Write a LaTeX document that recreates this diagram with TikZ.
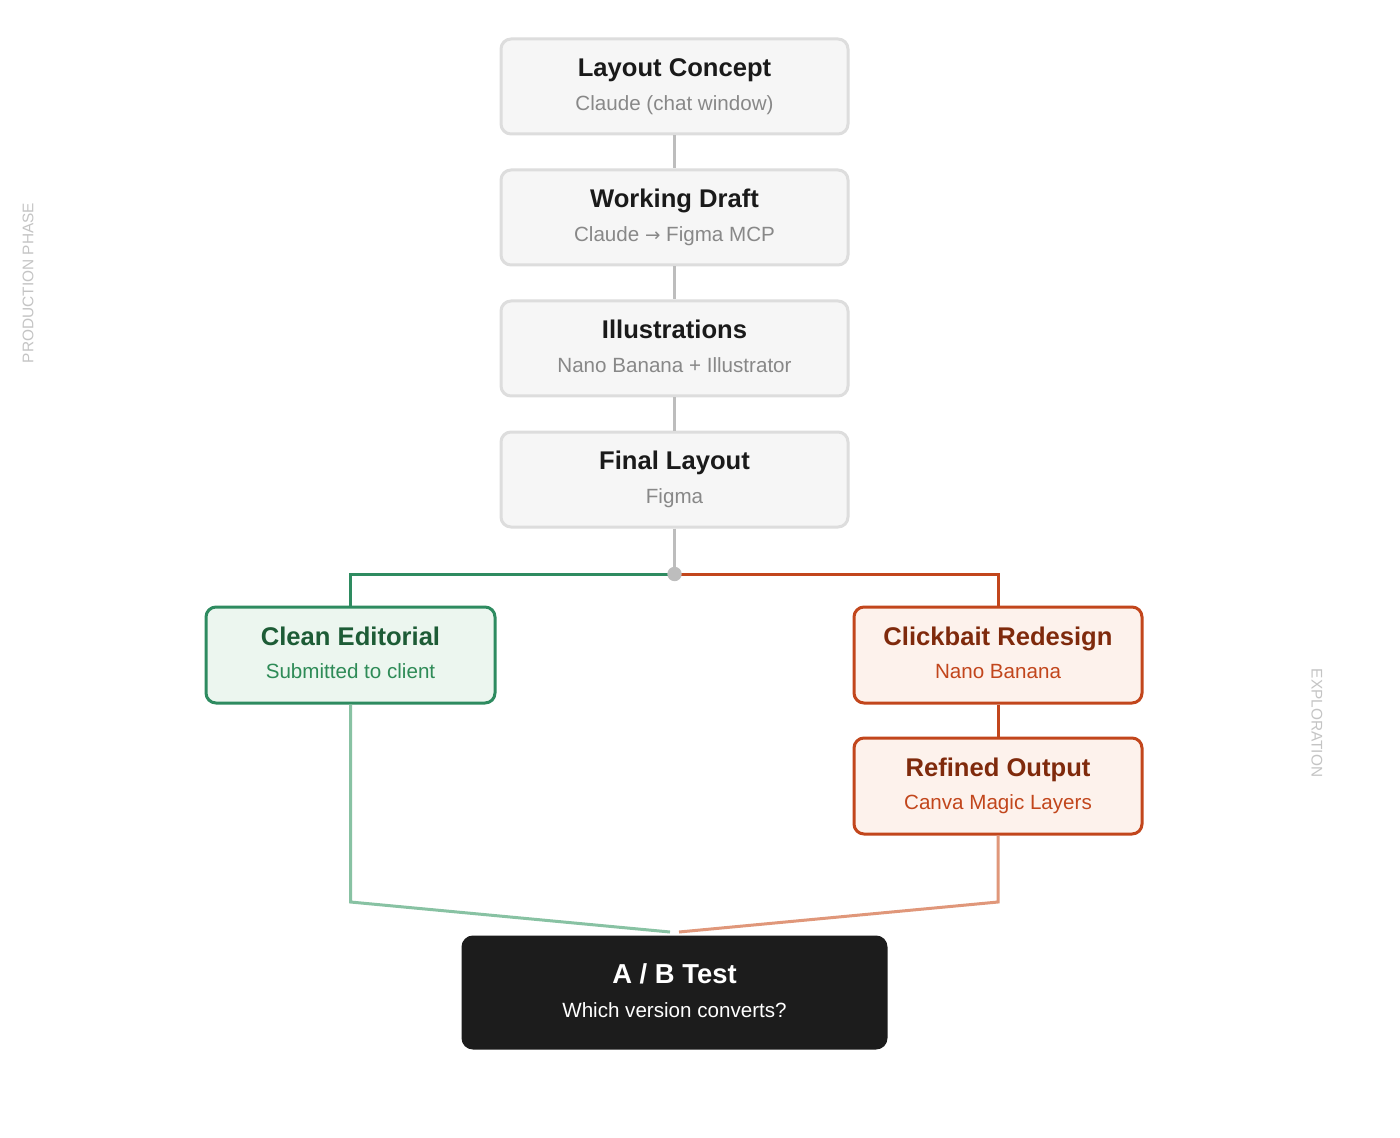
\documentclass[tikz,border=0pt]{standalone}
\usepackage{fontspec}
\setmainfont{Liberation Sans}
\newfontfamily\arrowfont{DejaVu Sans}
\usetikzlibrary{positioning}

\definecolor{grayfill}{HTML}{F6F6F6}
\definecolor{grayline}{HTML}{DDDDDD}
\definecolor{graylink}{HTML}{BDBDBD}
\definecolor{graytitle}{HTML}{1A1A1A}
\definecolor{graysub}{HTML}{888888}
\definecolor{greenline}{HTML}{2E8B60}
\definecolor{greenfill}{HTML}{ECF6EF}
\definecolor{greentitle}{HTML}{1D5C36}
\definecolor{greensub}{HTML}{2E8B57}
\definecolor{greenfade}{HTML}{88C2A3}
\definecolor{orangeline}{HTML}{C2461C}
\definecolor{orangefill}{HTML}{FDF2EC}
\definecolor{orangetitle}{HTML}{7F2A0C}
\definecolor{orangesub}{HTML}{C2461C}
\definecolor{orangefade}{HTML}{E0977A}
\definecolor{darkfill}{HTML}{1C1C1C}
\definecolor{sidegray}{HTML}{C4C4C4}

\tikzset{
  stagebox/.style={draw=grayline, fill=grayfill, line width=1.5pt, rounded corners=5pt,
    minimum width=173.5pt, minimum height=47.5pt, inner sep=0pt},
  cleanbox/.style={stagebox, draw=greenline, fill=greenfill, minimum width=144.5pt, minimum height=48pt},
  baitbox/.style={stagebox, draw=orangeline, fill=orangefill, minimum width=144pt, minimum height=48pt},
  testbox/.style={stagebox, draw=darkfill, fill=darkfill, minimum width=211.5pt, minimum height=55.5pt},
  ttl/.style={font=\bfseries\fontsize{12.8}{15}\selectfont, anchor=base, inner sep=0pt},
  sub/.style={font=\fontsize{10.3}{12}\selectfont, anchor=base, inner sep=0pt},
  link/.style={draw=graylink, line width=1.5pt},
  side/.style={font=\fontsize{7.7}{9}\selectfont, text=sidegray, inner sep=0pt},
}

\begin{document}
\begin{tikzpicture}[x=0.5pt, y=-0.5pt]
  \useasboundingbox[fill=white] (0,0) rectangle (1400,1138);

  % Production phase stages
  \node[stagebox] (concept) at (674.5,86.5) {};
  \node[stagebox] (draft)   at (674.5,217.5) {};
  \node[stagebox] (illus)   at (674.5,348.5) {};
  \node[stagebox] (final)   at (674.5,479.5) {};

  \node[ttl, text=graytitle] (conceptT) at ([yshift=5pt]concept.center) {Layout Concept};
  \node[sub, text=graysub]   (conceptS) at ([yshift=-11.8pt]concept.center) {Claude (chat window)};
  \node[ttl, text=graytitle] (draftT) at ([yshift=5pt]draft.center) {Working Draft};
  \node[sub, text=graysub]   (draftS) at ([yshift=-11.8pt]draft.center) {Claude {\arrowfont\fontsize{9.2}{11}\selectfont →} Figma MCP};
  \node[ttl, text=graytitle] (illusT) at ([yshift=5pt]illus.center) {Illustrations};
  \node[sub, text=graysub]   (illusS) at ([yshift=-11.8pt]illus.center) {Nano Banana + Illustrator};
  \node[ttl, text=graytitle] (finalT) at ([yshift=5pt]final.center) {Final Layout};
  \node[sub, text=graysub]   (finalS) at ([yshift=-11.8pt]final.center) {Figma};

  \draw[link] (concept) -- (draft);
  \draw[link] (draft) -- (illus);
  \draw[link] (illus) -- (final);

  % Branches
  \node[cleanbox] (clean)   at (350.5,655) {};
  \node[baitbox]  (bait)    at (998,655) {};
  \node[baitbox]  (refined) at (998,786) {};

  \node[ttl, text=greentitle]  (cleanT) at ([yshift=5pt]clean.center) {Clean Editorial};
  \node[sub, text=greensub]    (cleanS) at ([yshift=-11.8pt]clean.center) {Submitted to client};
  \node[ttl, text=orangetitle] (baitT) at ([yshift=5pt]bait.center) {Clickbait Redesign};
  \node[sub, text=orangesub]   (baitS) at ([yshift=-11.8pt]bait.center) {Nano Banana};
  \node[ttl, text=orangetitle] (refinedT) at ([yshift=5pt]refined.center) {Refined Output};
  \node[sub, text=orangesub]   (refinedS) at ([yshift=-11.8pt]refined.center) {Canva Magic Layers};

  \coordinate (split) at (674.5,574);
  \draw[link] (final) -- (split);
  \draw[draw=greenline, line width=1.5pt] (split) -| (clean.north);
  \draw[draw=orangeline, line width=1.5pt] (split) -| (bait.north);
  \fill[graylink] (split) circle (3.6pt);
  \draw[draw=orangeline, line width=1.5pt] (bait) -- (refined);

  % A/B test
  \node[testbox] (test) at (674.5,992.5) {};
  \node[ttl, text=white, font=\bfseries\fontsize{13.7}{16}\selectfont] (testT) at ([yshift=4.5pt]test.center) {A / B Test};
  \node[sub, text=white] (testS) at ([yshift=-12.3pt]test.center) {Which version converts?};

  \coordinate (cleanEnd) at (670,932);
  \coordinate (refinedEnd) at (679,932);
  \draw[draw=greenfade, line width=1.5pt] (clean.south) -- (350.5,902) -- (cleanEnd);
  \draw[draw=orangefade, line width=1.5pt] (refined.south) -- (998,902) -- (refinedEnd);

  % Side labels
  \node[side, rotate=90] (prodLabel) at (28,283) {PRODUCTION PHASE};
  \node[side, rotate=-90] (exploreLabel) at (1317,723) {EXPLORATION};
\end{tikzpicture}
\end{document}
